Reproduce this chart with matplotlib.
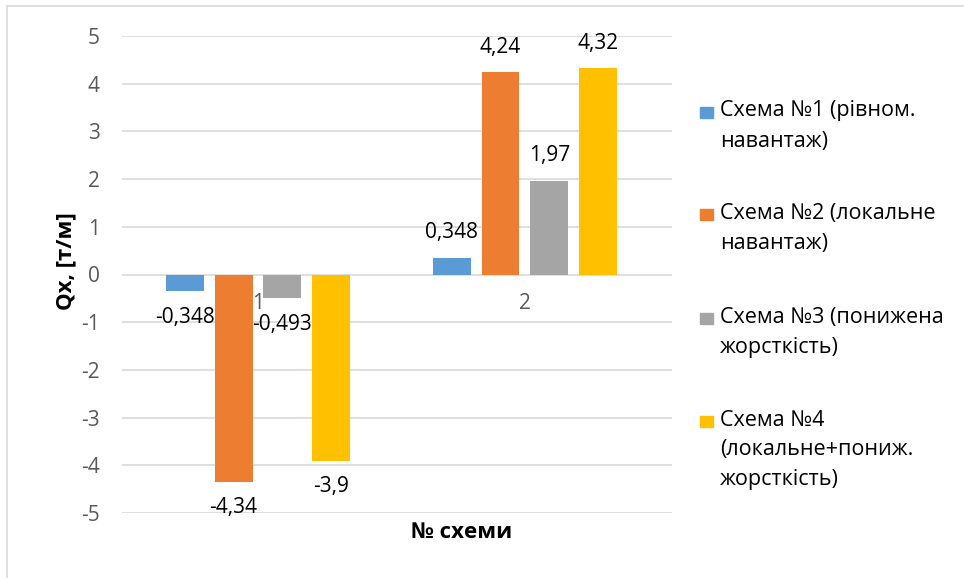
import matplotlib
matplotlib.use('Agg')
import matplotlib.pyplot as plt
from matplotlib.patches import Rectangle
import numpy as np

plt.rcParams['font.family'] = ['Open Sans', 'DejaVu Sans']

# Дані
categories = ['1', '2']
series_names = [
    'Схема №1 (рівном.\nнавантаж)',
    'Схема №2 (локальне\nнавантаж)',
    'Схема №3 (понижена\nжорсткість)',
    'Схема №4\n(локальне+пониж.\nжорсткість)',
]
series_values = [
    [-0.348, 0.348],
    [-4.34, 4.24],
    [-0.493, 1.97],
    [-3.9, 4.32],
]
colors = ['#5B9BD5', '#ED7D31', '#A5A5A5', '#FFC000']
y_ticks = [-5, -4, -3, -2, -1, 0, 1, 2, 3, 4, 5]

W, H = 964, 578
fig = plt.figure(figsize=(W / 100, H / 100), dpi=100)
ax = fig.add_axes([122 / W, 1 - 513 / H, 550 / W, 477 / H])

x = np.arange(len(categories))
bar_w = 0.142
step = 0.1824
for i, (vals, col) in enumerate(zip(series_values, colors)):
    pos = x + (i - 1.5) * step
    ax.bar(pos, vals, width=bar_w, color=col, zorder=3)
    for p, v in zip(pos, vals):
        off = 18 if v >= 0 else -19
        ax.annotate(str(v).replace('.', ','), xy=(p, v), xytext=(0, off),
                    textcoords='offset points', ha='center', va='center',
                    fontsize=15, color='#000000', zorder=4)

# підписи категорій біля нуля
for xi, c in zip(x, categories):
    ax.annotate(c, xy=(xi, 0), xytext=(0, -21), textcoords='offset points',
                ha='center', va='center', fontsize=15, color='#595959')

ax.set_xlim(-0.509, 1.551)
ax.set_ylim(-5, 5)
ax.set_yticks(y_ticks)
ax.set_yticklabels([str(t) for t in y_ticks])
ax.set_xticks([])
ax.tick_params(axis='y', length=0, pad=16, labelsize=15, labelcolor='#595959')
ax.grid(axis='y', color='#D9D9D9', linewidth=1.2, zorder=0)
for s in ax.spines.values():
    s.set_visible(False)

fig.text(66 / W, 1 - 261 / H, 'Qx, [т/м]', rotation=90, ha='center', va='center',
         fontsize=16, fontweight='bold')
fig.text(462 / W, 1 - 533 / H, '№ схеми', ha='center', va='center',
         fontsize=16, fontweight='bold')

# легенда
leg_top = [111, 213, 317, 420]
line_h = 30
for name, col, ty in zip(series_names, colors, leg_top):
    fig.patches.append(Rectangle((700 / W, 1 - (ty + 7) / H), 13 / W, 11 / H,
                                 transform=fig.transFigure, color=col))
    for k, line in enumerate(name.split('\n')):
        fig.text(720 / W, 1 - (ty + k * line_h) / H, line, ha='left', va='center',
                 fontsize=15.5, color='#000000')

# рамка (видно лише лівий і верхній край)
fig.patches.append(Rectangle((7 / W, -0.05), 1.1, 1 - 6 / H + 0.05,
                             transform=fig.transFigure, fill=False,
                             edgecolor='#D9D9D9', linewidth=1.2))

plt.savefig('out.png', dpi=100)
plt.close()
